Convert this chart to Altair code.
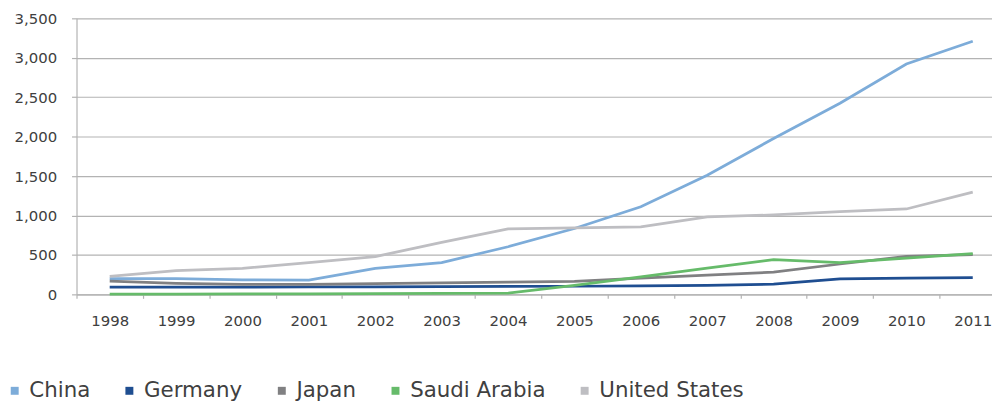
import altair as alt
import pandas as pd

years = list(range(1998, 2012))
countries = ["China", "Germany", "Japan", "Saudi Arabia", "United States"]
china = [200, 200, 185, 180, 330, 403, 604, 835, 1110, 1511, 1976, 2424, 2920, 3210]
germany = [92, 92, 92, 95, 95, 97, 100, 103, 107, 115, 130, 195, 205, 212]
japan = [168, 140, 126, 128, 135, 145, 155, 165, 205, 245, 281, 385, 482, 504]
saudi = [3, 3, 5, 5, 8, 12, 15, 115, 222, 333, 440, 403, 460, 516]
usa = [227, 300, 330, 403, 478, 660, 831, 843, 856, 982, 1007, 1050, 1083, 1297]
colors = ["#7dacd9", "#1f4e91", "#808082", "#66bb6a", "#bebec2"]
y_ticks = [0, 500, 1000, 1500, 2000, 2500, 3000, 3500]

series = [china, germany, japan, saudi, usa]
rows = []
for name, vals in zip(countries, series):
    for yr, v in zip(years, vals):
        rows.append({"Year": yr, "Country": name, "Value": v})
df = pd.DataFrame(rows)

x_ticks = [y - 0.5 for y in years]
FONT = "DejaVu Sans"
TXT = "#404040"
GRID = "#b3b3b3"

chart = alt.Chart(df).mark_line(strokeWidth=2.75).encode(
    x=alt.X("Year:Q",
            scale=alt.Scale(domain=[1997.5, 2011.29], nice=False, zero=False),
            axis=alt.Axis(values=x_ticks, labelExpr="format(datum.value + 0.5, 'd')",
                          labelOffset=33.4, labelFlush=False, labelOverlap=False,
                          grid=False, title=None, tickSize=4, tickColor=GRID,
                          domainColor=GRID, domainWidth=1.2, tickWidth=1.2,
                          labelFont=FONT, labelFontSize=15, labelColor=TXT,
                          labelPadding=15)),
    y=alt.Y("Value:Q",
            scale=alt.Scale(domain=[0, 3500], nice=False),
            axis=alt.Axis(values=y_ticks, format=",.0f", title=None, grid=True,
                          gridColor=GRID, gridWidth=1.2, tickSize=5, tickColor=GRID,
                          tickWidth=1.2, domainColor=GRID, domainWidth=1.2,
                          labelFont=FONT, labelFontSize=15, labelColor=TXT,
                          labelPadding=15, labelFlush=False)),
    color=alt.Color("Country:N",
                    scale=alt.Scale(domain=countries, range=colors),
                    legend=alt.Legend(title=None, orient="none", legendX=-73, legendY=364,
                                      direction="horizontal", symbolType="square",
                                      symbolSize=9, symbolStrokeWidth=5,
                                      labelFont=FONT, labelFontSize=21.5, labelColor=TXT,
                                      labelOffset=4, columnPadding=27.5, padding=0)),
).properties(
    width=922, height=278,
    padding={"left": 69, "top": 9, "right": 0, "bottom": 108},
    autosize=alt.AutoSizeParams(type="none"),
).configure_view(stroke=None)

chart.save("out.html", embed_options={"renderer": "svg", "actions": False})
